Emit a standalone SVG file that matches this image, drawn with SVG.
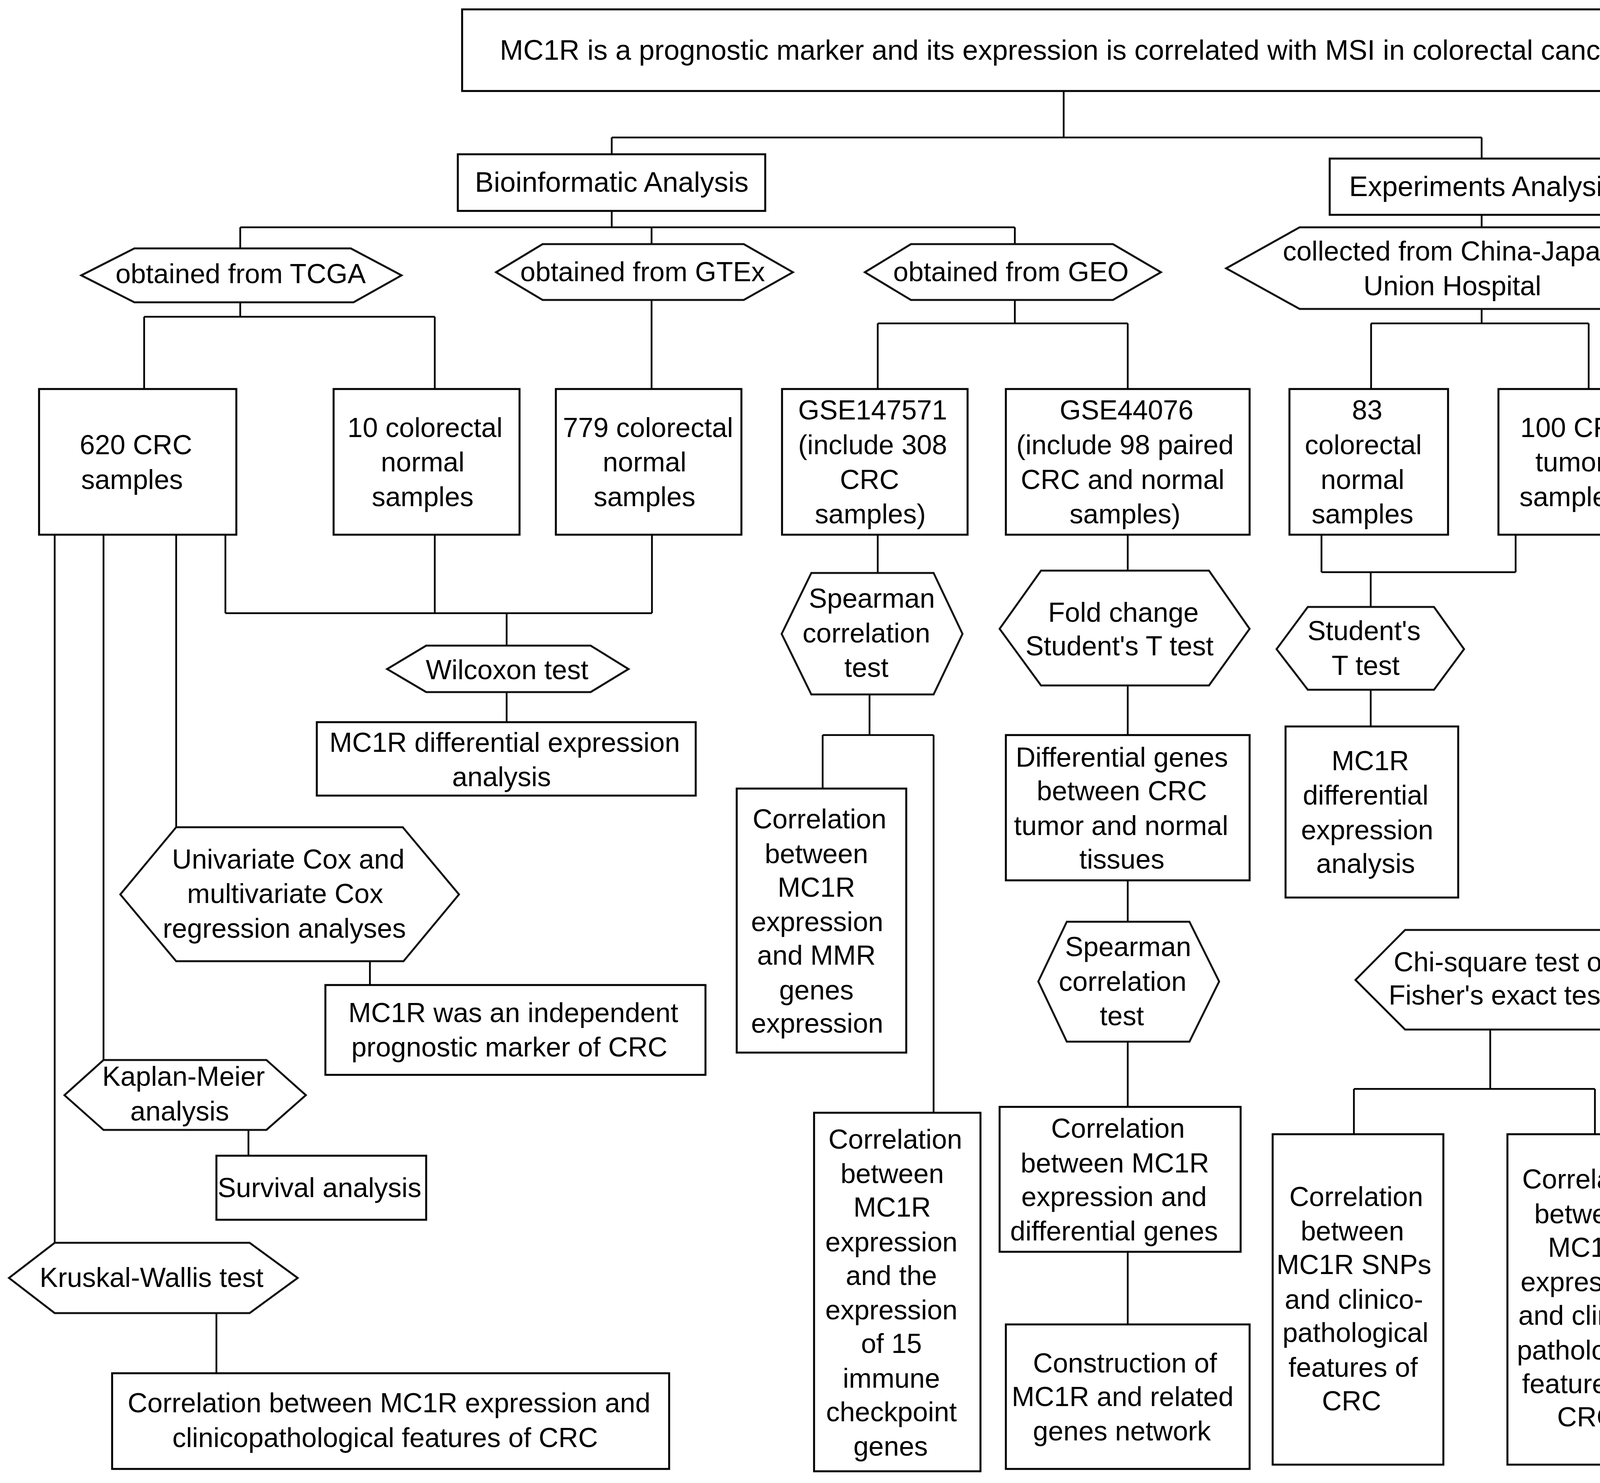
<svg xmlns="http://www.w3.org/2000/svg" width="4342" height="3797" viewBox="0 0 4342 3797">
<style>
.b{fill:#fff;stroke:#000;stroke-width:5}
.h{fill:#fff;stroke:#111;stroke-width:5;stroke-linejoin:miter}
.c{fill:none;stroke:#000;stroke-width:4.5}
text{font-family:"Liberation Sans",Arial,sans-serif;font-size:70px;fill:#000;text-anchor:middle}
.L{font-size:72px}
</style>
<rect width="4342" height="3797" fill="#fff"/>
<g id="connectors">
<path class="c" d="M2723,233V352M1566,352H3793M1566,352V395M3793,352V406"/>
<path class="c" d="M1566,540V582M615,582H2598M615,582V636M1668,582V625M2598,582V625M3793,550V582"/>
<path class="c" d="M615,774V811M369,811H1113M369,811V996M1113,811V996M1668,768V996"/>
<path class="c" d="M2598,768V828M2247,828H2887M2247,828V996M2887,828V996"/>
<path class="c" d="M3793,791V828M3510,828H4067M3510,828V996M4067,828V996"/>
<path class="c" d="M577,1369V1570M1113,1369V1570M1669,1369V1570M577,1570H1669M1297,1570V1653M1297,1772V1849"/>
<path class="c" d="M451,1369V2118M265,1369V2714M140,1369V3182M947,2461V2522M636,2893V2959M554,3362V3516"/>
<path class="c" d="M2247,1369V1467M2226,1778V1882M2106,1882H2390M2106,1882V2019M2390,1882V2849"/>
<path class="c" d="M2887,1369V1461M2887,1755V1882M2887,2254V2360M2887,2667V2834M2887,3205V3391"/>
<path class="c" d="M3383,1369V1465M3880,1369V1465M3383,1465H3880M3509,1465V1554M3509,1766V1860M4105,1369V2381"/>
<path class="c" d="M3815,2636V2788M3466,2788H4083M3466,2788V2904M4083,2788V2904"/>
</g>
<g id="title"><rect class="b" x="1183" y="24" width="3073" height="209"/><text class="L" x="2720" y="153">MC1R is a prognostic marker and its expression is correlated with MSI in colorectal cancer</text></g>
<g id="bioinformatic"><rect class="b" x="1172" y="395" width="787" height="145"/><text class="L" x="1566" y="491">Bioinformatic Analysis</text></g>
<g id="experiments"><rect class="b" x="3404" y="406" width="784" height="144"/><text class="L" x="3796" y="502">Experiments Analysis</text></g>
<g id="tcga"><polygon class="h" points="208,705 344,636 898,636 1028,705 905,774 344,774"/><text x="616" y="725">obtained from TCGA</text></g>
<g id="gtex"><polygon class="h" points="1270,697 1389,625 1904,625 2030,697 1904,768 1389,768"/><text x="1645" y="720">obtained from GTEx</text></g>
<g id="geo"><polygon class="h" points="2214,697 2332,625 2849,625 2972,697 2849,768 2332,768"/><text x="2588" y="720">obtained from GEO</text></g>
<g id="china"><polygon class="h" points="3139,687 3327,582 4119,582 4309,687 4119,791 3327,791"/><text><tspan x="3710" y="667">collected from China-Japan</tspan><tspan x="3718" y="756">Union Hospital</tspan></text></g>
<g id="crc620"><rect class="b" x="100" y="996" width="505" height="373"/><text><tspan x="348" y="1163">620 CRC</tspan><tspan x="338" y="1252">samples</tspan></text></g>
<g id="col10"><rect class="b" x="854" y="996" width="476" height="373"/><text><tspan x="1088" y="1119">10 colorectal</tspan><tspan x="1082" y="1207">normal</tspan><tspan x="1082" y="1296">samples</tspan></text></g>
<g id="col779"><rect class="b" x="1423" y="996" width="475" height="373"/><text><tspan x="1659" y="1119">779 colorectal</tspan><tspan x="1650" y="1207">normal</tspan><tspan x="1650" y="1296">samples</tspan></text></g>
<g id="gse147571"><rect class="b" x="2002" y="996" width="475" height="373"/><text><tspan x="2234" y="1074">GSE147571</tspan><tspan x="2234" y="1163">(include 308</tspan><tspan x="2226" y="1252">CRC</tspan><tspan x="2228" y="1340">samples)</tspan></text></g>
<g id="gse44076"><rect class="b" x="2575" y="996" width="624" height="373"/><text><tspan x="2884" y="1074">GSE44076</tspan><tspan x="2880" y="1163">(include 98 paired</tspan><tspan x="2874" y="1252">CRC and normal</tspan><tspan x="2880" y="1340">samples)</tspan></text></g>
<g id="col83"><rect class="b" x="3301" y="996" width="406" height="373"/><text><tspan x="3500" y="1074">83</tspan><tspan x="3490" y="1163">colorectal</tspan><tspan x="3488" y="1252">normal</tspan><tspan x="3488" y="1340">samples</tspan></text></g>
<g id="crc100"><rect class="b" x="3836" y="996" width="406" height="373"/><text><tspan x="4036" y="1119">100 CRC</tspan><tspan x="4020" y="1207">tumor</tspan><tspan x="4020" y="1296">samples</tspan></text></g>
<g id="wilcoxon"><polygon class="h" points="991,1713 1091,1653 1512,1653 1609,1713 1512,1772 1091,1772"/><text x="1298" y="1739">Wilcoxon test</text></g>
<g id="diffL"><rect class="b" x="811" y="1849" width="970" height="188"/><text><tspan x="1292" y="1925">MC1R differential expression</tspan><tspan x="1284" y="2013">analysis</tspan></text></g>
<g id="spearman1"><polygon class="h" points="2001,1623 2077,1467 2390,1467 2464,1623 2390,1778 2077,1778"/><text><tspan x="2232" y="1556">Spearman</tspan><tspan x="2218" y="1645">correlation</tspan><tspan x="2218" y="1733">test</tspan></text></g>
<g id="foldchange"><polygon class="h" points="2559,1610 2665,1461 3095,1461 3199,1610 3095,1755 2665,1755"/><text><tspan x="2876" y="1592">Fold change</tspan><tspan x="2866" y="1678">Student's T test</tspan></text></g>
<g id="students"><polygon class="h" points="3268,1662 3348,1554 3671,1554 3748,1662 3671,1766 3348,1766"/><text><tspan x="3492" y="1639">Student's</tspan><tspan x="3496" y="1728">T test</tspan></text></g>
<g id="diffR"><rect class="b" x="3291" y="1860" width="442" height="438"/><text><tspan x="3508" y="1972">MC1R</tspan><tspan x="3496" y="2060">differential</tspan><tspan x="3500" y="2149">expression</tspan><tspan x="3496" y="2235">analysis</tspan></text></g>
<g id="diffgenes"><rect class="b" x="2575" y="1882" width="624" height="372"/><text><tspan x="2872" y="1963">Differential genes</tspan><tspan x="2872" y="2049">between CRC</tspan><tspan x="2870" y="2138">tumor and normal</tspan><tspan x="2872" y="2224">tissues</tspan></text></g>
<g id="mmr"><rect class="b" x="1886" y="2019" width="434" height="676"/><text><tspan x="2098" y="2121">Correlation</tspan><tspan x="2090" y="2210">between</tspan><tspan x="2090" y="2296">MC1R</tspan><tspan x="2092" y="2384">expression</tspan><tspan x="2090" y="2470">and MMR</tspan><tspan x="2090" y="2559">genes</tspan><tspan x="2092" y="2644">expression</tspan></text></g>
<g id="univariate"><polygon class="h" points="308,2290 451,2118 1031,2118 1175,2290 1033,2461 451,2461"/><text><tspan x="738" y="2224">Univariate Cox and</tspan><tspan x="730" y="2312">multivariate Cox</tspan><tspan x="728" y="2401">regression analyses</tspan></text></g>
<g id="independent"><rect class="b" x="833" y="2522" width="973" height="230"/><text><tspan x="1314" y="2617">MC1R was an independent</tspan><tspan x="1304" y="2705">prognostic marker of CRC</tspan></text></g>
<g id="kaplan"><polygon class="h" points="165,2804 265,2714 682,2714 783,2804 682,2893 265,2893"/><text><tspan x="470" y="2780">Kaplan-Meier</tspan><tspan x="460" y="2869">analysis</tspan></text></g>
<g id="survival"><rect class="b" x="554" y="2959" width="537" height="164"/><text x="818" y="3065">Survival analysis</text></g>
<g id="kruskal"><polygon class="h" points="23,3272 140,3182 639,3182 762,3272 639,3362 140,3362"/><text x="388" y="3295">Kruskal-Wallis test</text></g>
<g id="clinL"><rect class="b" x="287" y="3516" width="1426" height="245"/><text><tspan x="996" y="3616">Correlation between MC1R expression and</tspan><tspan x="986" y="3705">clinicopathological features of CRC</tspan></text></g>
<g id="immune"><rect class="b" x="2084" y="2849" width="426" height="918"/><text><tspan x="2292" y="2941">Correlation</tspan><tspan x="2284" y="3029">between</tspan><tspan x="2284" y="3115">MC1R</tspan><tspan x="2282" y="3204">expression</tspan><tspan x="2282" y="3290">and the</tspan><tspan x="2282" y="3378">expression</tspan><tspan x="2282" y="3464">of 15</tspan><tspan x="2282" y="3553">immune</tspan><tspan x="2282" y="3639">checkpoint</tspan><tspan x="2280" y="3727">genes</tspan></text></g>
<g id="spearman2"><polygon class="h" points="2658,2513 2731,2360 3045,2360 3121,2513 3045,2667 2731,2667"/><text><tspan x="2888" y="2448">Spearman</tspan><tspan x="2874" y="2537">correlation</tspan><tspan x="2872" y="2625">test</tspan></text></g>
<g id="corrdiff"><rect class="b" x="2559" y="2834" width="617" height="371"/><text><tspan x="2862" y="2913">Correlation</tspan><tspan x="2854" y="3002">between MC1R</tspan><tspan x="2852" y="3088">expression and</tspan><tspan x="2852" y="3176">differential genes</tspan></text></g>
<g id="construction"><rect class="b" x="2575" y="3391" width="624" height="370"/><text><tspan x="2880" y="3514">Construction of</tspan><tspan x="2874" y="3600">MC1R and related</tspan><tspan x="2872" y="3688">genes network</tspan></text></g>
<g id="chisquare"><polygon class="h" points="3470,2509 3597,2381 4105,2381 4233,2509 4105,2636 3597,2636"/><text><tspan x="3846" y="2487">Chi-square test or</tspan><tspan x="3836" y="2572">Fisher's exact test</tspan></text></g>
<g id="snps"><rect class="b" x="3258" y="2904" width="437" height="846"/><text><tspan x="3472" y="3088">Correlation</tspan><tspan x="3462" y="3176">between</tspan><tspan x="3466" y="3262">MC1R SNPs</tspan><tspan x="3466" y="3351">and clinico-</tspan><tspan x="3470" y="3436">pathological</tspan><tspan x="3464" y="3525">features of</tspan><tspan x="3460" y="3611">CRC</tspan></text></g>
<g id="clinR"><rect class="b" x="3859" y="2904" width="431" height="846"/><text><tspan x="4068" y="3043">Correlation</tspan><tspan x="4060" y="3132">between</tspan><tspan x="4062" y="3218">MC1R</tspan><tspan x="4062" y="3306">expression</tspan><tspan x="4064" y="3392">and clinico-</tspan><tspan x="4070" y="3481">pathological</tspan><tspan x="4062" y="3567">features of</tspan><tspan x="4062" y="3652">CRC</tspan></text></g>
</svg>
